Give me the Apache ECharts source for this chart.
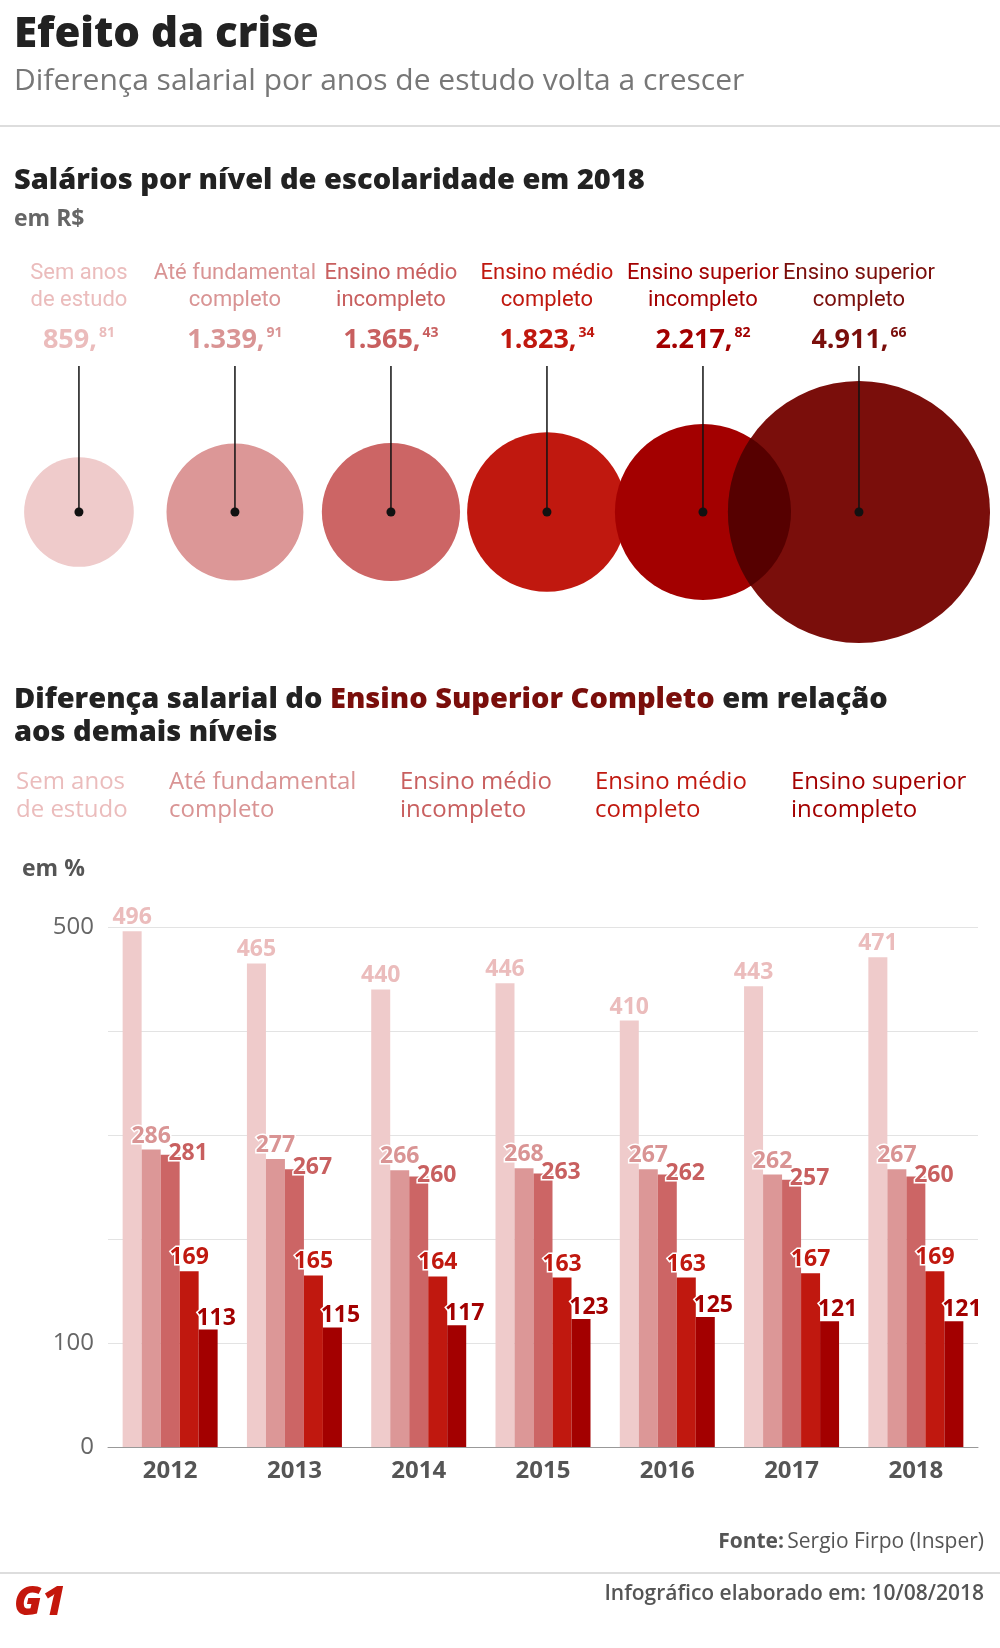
<!DOCTYPE html><html><head><meta charset="utf-8">
<script src="https://cdn.jsdelivr.net/npm/echarts@6/dist/echarts.min.js"></script>
<style>body{margin:0;background:#fff}#c{width:1000px;height:1648px}</style></head><body><div id="c"></div>
<script>
const levels=['Sem anos\nde estudo','Até fundamental\ncompleto','Ensino médio\nincompleto','Ensino médio\ncompleto','Ensino superior\nincompleto','Ensino superior\ncompleto'];
const salInt=['859','1.339','1.365','1.823','2.217','4.911'];
const salDec=['81','91','43','34','82','66'];
const salaries=[859.81,1339.91,1365.43,1823.34,2217.82,4911.66];
const colors=['#efcbcb','#dc9797','#cc6565','#c0180f','#a30000','#7a0e0b'];
const labelColors=['#ebbcbc','#d99494','#c85f5f','#c0180f','#a30000','#7a0e0b'];
const years=['2012','2013','2014','2015','2016','2017','2018'];
const semAnos=[496,465,440,446,410,443,471];
const ateFund=[286,277,266,268,267,262,267];
const medioInc=[281,267,260,263,262,257,260];
const medioComp=[169,165,164,163,163,167,169];
const supInc=[113,115,117,123,125,121,121];
const barSeries=[semAnos,ateFund,medioInc,medioComp,supInc];
const legendNames=['Sem anos\nde estudo','Até fundamental\ncompleto','Ensino médio\nincompleto','Ensino médio\ncompleto','Ensino superior\nincompleto'];
const F='Open Sans';
const ch=echarts.init(document.getElementById('c'));
const bubbleData=salaries.map((v,i)=>[i,0.5,v]);
const labelOffsets=[[0,0],[0,0],[18,12],[0,0],[8,2]];
const R=v=>1.87*Math.sqrt(v);
const g=[
 {type:'text',left:14,top:14,style:{text:'Efeito da crise',font:'800 42px '+F,fill:'#222'}},
 {type:'text',left:14,top:66,style:{text:'Diferença salarial por anos de estudo volta a crescer',font:'400 30px '+F,fill:'#777'}},
 {type:'rect',left:0,top:125,shape:{width:1000,height:2},style:{fill:'#ddd'}},
 {type:'text',left:14,top:166,style:{text:'Salários por nível de escolaridade em 2018',font:'800 29px '+F,fill:'#222'}},
 {type:'text',left:14,top:208,style:{text:'em R$',font:'700 23px '+F,fill:'#666'}},
 {type:'text',left:14,top:683,style:{rich:{a:{font:'800 29px '+F,fill:'#222'},b:{font:'800 29px '+F,fill:'#7a0e0b'}},text:'{a|Diferença salarial do }{b|Ensino Superior Completo}{a| em relação}\n{a|aos demais níveis}',lineHeight:33}},
 {type:'text',left:22,top:858,style:{text:'em %',font:'700 23px '+F,fill:'#555'}},
 {type:'text',right:16,top:1532,style:{rich:{a:{font:'700 21px '+F,fill:'#555'},b:{font:'400 21px '+F,fill:'#555'}},text:'{a|Fonte:} {b|Sergio Firpo (Insper)}'}},
 {type:'rect',left:0,top:1572,shape:{width:1000,height:2},style:{fill:'#ddd'}},
 {type:'text',right:16,top:1584,style:{rich:{a:{font:'600 21px '+F,fill:'#555'}},text:'{a|Infográfico elaborado em: 10/08/2018}'}},
 {type:'text',left:14,top:1584,style:{text:'G1',font:'italic 900 40px '+F,fill:'#c4170c'}}
];
const legX=[16,169,400,595,791];
legendNames.forEach((n,i)=>g.push({type:'text',left:legX[i],top:768,style:{text:n,font:'400 24px '+F,fill:labelColors[i],lineHeight:28}}));
ch.setOption({
 animation:false,
 graphic:g,
 grid:[{left:0,right:0,top:412,height:200},{left:108,right:22,top:927,bottom:201}],
 xAxis:[{gridIndex:0,type:'value',min:-0.506,max:5.904,show:false},
  {gridIndex:1,type:'category',data:years,axisLine:{lineStyle:{color:'#999'}},axisTick:{show:false},axisLabel:{fontFamily:F,fontWeight:700,fontSize:24,color:'#555',margin:12}}],
 yAxis:[{gridIndex:0,type:'value',min:0,max:1,show:false},
  {gridIndex:1,type:'value',min:0,max:500,interval:100,axisLine:{show:false},axisTick:{show:false},
   splitLine:{lineStyle:{color:'#e3e3e3'}},
   axisLabel:{formatter:v=>(v===0||v===100||v===500)?v:'',fontFamily:F,fontSize:24,color:'#666',margin:14}}],
 series:[
  {type:'custom',xAxisIndex:0,yAxisIndex:0,data:bubbleData,z:2,renderItem:(params,api)=>{
    const i=params.dataIndex;const c=api.coord([api.value(0),api.value(1)]);const r=R(api.value(2));
    const kids=[{type:'circle',shape:{cx:c[0],cy:c[1],r:r},style:{fill:colors[i]}}];
    if(i===5){
      const p=api.coord([4,0.5]);const r0=R(salaries[4]);const d=c[0]-p[0];
      const a=(r0*r0-r*r+d*d)/(2*d);const h=Math.sqrt(r0*r0-a*a);const x=p[0]+a;
      kids.push({type:'path',shape:{pathData:`M${x} ${c[1]-h} A${r0} ${r0} 0 0 1 ${x} ${c[1]+h} A${r} ${r} 0 0 1 ${x} ${c[1]-h} Z`},style:{fill:'#560000'}});
    }
    return {type:'group',children:kids};
  }},
  {type:'custom',xAxisIndex:0,yAxisIndex:0,data:bubbleData,z:5,renderItem:(params,api)=>{
    const i=params.dataIndex;const c=api.coord([api.value(0),api.value(1)]);
    return {type:'group',children:[
     {type:'line',shape:{x1:c[0],y1:c[1],x2:c[0],y2:366},style:{stroke:'#111',lineWidth:1.5}},
     {type:'circle',shape:{cx:c[0],cy:c[1],r:4.5},style:{fill:'#111'}},
     {type:'text',x:c[0],y:260,style:{text:levels[i],align:'center',verticalAlign:'top',font:'400 22px Roboto',fill:labelColors[i],lineHeight:27}},
     {type:'text',x:c[0],y:340,style:{text:'{a|'+salInt[i]+',}{b|'+salDec[i]+'}',align:'center',verticalAlign:'middle',
      rich:{a:{font:'700 27px '+F,fill:labelColors[i]},b:{font:'700 14px '+F,fill:labelColors[i],verticalAlign:'top',padding:[0,0,12,2]}}}}
    ]};
  }},
  ...barSeries.map((d,i)=>({type:'bar',xAxisIndex:1,yAxisIndex:1,data:d,barWidth:19,barGap:'0%',
   itemStyle:{color:colors[i]},
   label:{show:true,position:'top',offset:labelOffsets[i],distance:2,color:labelColors[i],fontFamily:F,fontWeight:700,fontSize:23,textBorderColor:'#fff',textBorderWidth:3}}))
 ]
});
</script></body></html>
